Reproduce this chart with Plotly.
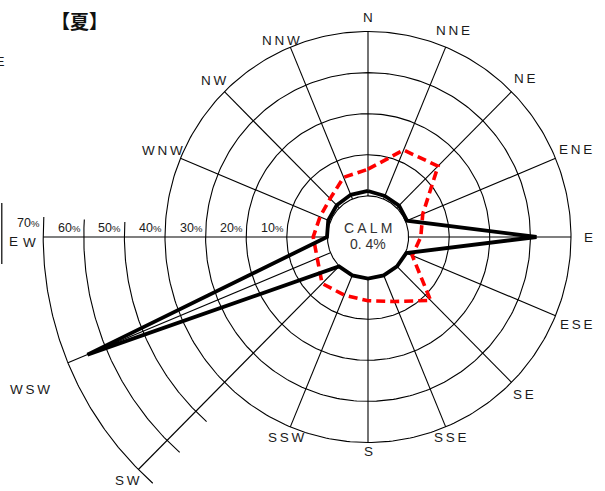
import numpy as np
import plotly.graph_objects as go

# ---------------- data ----------------
directions = ["N", "NNE", "NE", "ENE", "E", "ESE", "SE", "SSE",
              "S", "SSW", "SW", "WSW", "W", "WNW", "NW", "NNW"]
solid_freq = [1.2, 0.8, 0.8, 0.4, 31.5, 0.2, 0.1, 0.1,
              0.1, 0.1, 0.1, 64.8, 0.1, 0.6, 0.9, 1.1]
dashed_freq = [6.5, 12.9, 14.4, 4.6, 3.0, 1.8, 11.8, 7.0,
               5.5, 5.3, 6.0, 3.5, 3.5, 2.8, 3.2, 5.7]
calm_pct = 0.4
full_rings = [10, 20, 30, 40]
partial_rings = [50, 60, 70]
ring_labels = ["10%", "20%", "30%", "40%", "50%", "60%", "70%"]
long_spokes = ["SW", "WSW", "W"]
title_text = "【夏】"

# ---------------- geometry / style ----------------
W, H = 605, 491
HOLE = 10.0             # calm circle radius in % units
PX_X, PX_Y = 4.06, 4.11
CX, CY = 368, 237       # centre in figure pixels
ARC_FROM, ARC_TO = 221.5, 273.5
label_r = {"N": 53.3, "NNE": 54.5, "NE": 54.4, "ENE": 55.4, "E": 54.2,
           "ESE": 55.5, "SE": 54.2, "SSE": 52.9, "S": 52.3, "SSW": 52.8,
           "SW": 83.8, "WSW": 91.0, "W": 83.3, "WNW": 54.8, "NW": 53.7,
           "NNW": 52.4}
label_ang_override = {"WSW": 246.0, "SW": 224.9, "NNW": 336.0}
FONT = "Liberation Sans, Arial, sans-serif"
TS = "\u2009"

angles = [22.5 * i for i in range(len(directions))]


def pol(v, deg, hole=HOLE):
    r = hole + v
    a = np.radians(deg)
    return r * np.sin(a), r * np.cos(a)


def scr(px, py):
    """figure pixel -> data units"""
    return (px - CX) / PX_X, (CY - py) / PX_Y


traces = []

# grid rings
gx, gy = [], []
circ = np.linspace(0, 360, 361)
for lv in [0] + full_rings:
    x, y = pol(lv, circ)
    gx += list(x) + [None]
    gy += list(y) + [None]
arc = np.linspace(ARC_FROM, ARC_TO, 120)
for lv in partial_rings:
    x, y = pol(lv, arc)
    gx += list(x) + [None]
    gy += list(y) + [None]
# spokes
for d, a in zip(directions, angles):
    end = partial_rings[-1] if d in long_spokes else full_rings[-1]
    x0, y0 = pol(0, a)
    x1, y1 = pol(end, a)
    gx += [x0, x1, None]
    gy += [y0, y1, None]
traces.append(go.Scatter(x=gx, y=gy, mode="lines",
                         line=dict(color="black", width=1.1),
                         hoverinfo="skip", showlegend=False))

# dashed series
dx, dy = pol(np.array(dashed_freq + dashed_freq[:1]), np.array(angles + angles[:1]))
traces.append(go.Scatter(x=dx, y=dy, mode="lines",
                         line=dict(color="#ff0000", width=3.6, dash="9px,5px"),
                         showlegend=False, hoverinfo="skip"))

# solid series
sx, sy = pol(np.array(solid_freq + solid_freq[:1]), np.array(angles + angles[:1]))
traces.append(go.Scatter(x=sx, y=sy, mode="lines",
                         line=dict(color="black", width=3.8),
                         showlegend=False, hoverinfo="skip"))

# edge of the neighbouring rose (cut off at the left border)
ex0, ey0 = scr(1.8, 203)
ex1, ey1 = scr(1.8, 264)
traces.append(go.Scatter(x=[ex0, ex1], y=[ey0, ey1], mode="lines",
                         line=dict(color="black", width=1.2),
                         showlegend=False, hoverinfo="skip"))

fig = go.Figure(traces)

ann = []
# direction labels
for d, a in zip(directions, angles):
    aa = label_ang_override.get(d, a)
    x, y = pol(label_r[d] - HOLE, aa)
    ann.append(dict(x=x, y=y, text=TS.join(d), showarrow=False,
                    yshift=-5 if d == "W" else 0,
                    font=dict(family=FONT, size=13.5, color="#1a1a1a")))
# neighbour's labels (cut)
nx, ny = scr(13.5, 241)
ann.append(dict(x=nx, y=ny, text="E", showarrow=False,
                font=dict(family=FONT, size=13.5, color="#1a1a1a")))
nx, ny = scr(6, 61)
ann.append(dict(x=nx, y=ny, text="N" + TS + "E", showarrow=False, xanchor="right",
                font=dict(family=FONT, size=13.5, color="#1a1a1a")))

# ring percent labels along W axis
for lv, txt in zip(full_rings + partial_rings, ring_labels):
    x, _ = pol(lv, 270)
    num = txt[:-1]
    ann.append(dict(x=x, y=0, xanchor="right", yanchor="bottom",
                    xshift=-1, yshift=(5 if lv == 70 else 0),
                    text=num + "<span style='font-size:9.5px'>%</span>",
                    showarrow=False,
                    font=dict(family=FONT, size=12.5, color="#1a1a1a")))

# calm text
ann.append(dict(x=0, y=0, text="C A L M", showarrow=False, yshift=9,
                font=dict(family=FONT, size=14, color="#333333")))
ann.append(dict(x=0, y=0, text="0. " + ("%g" % calm_pct).split(".")[1] + "%",
                showarrow=False, yshift=-7,
                font=dict(family=FONT, size=14, color="#333333")))

# title
tx, ty = scr(79, 20)
ann.append(dict(x=tx, y=ty, text="<b>" + title_text + "</b>",
                showarrow=False,
                font=dict(family="Noto Sans CJK JP", size=19, color="#111111")))

fig.update_layout(
    width=W, height=H,
    margin=dict(l=0, r=0, t=0, b=0),
    paper_bgcolor="white", plot_bgcolor="white",
    xaxis=dict(range=[-CX / PX_X, (W - CX) / PX_X], visible=False, fixedrange=True),
    yaxis=dict(range=[-(H - CY) / PX_Y, CY / PX_Y], visible=False, fixedrange=True),
    annotations=ann,
    showlegend=False,
)

fig.write_html("out.html", config={"displayModeBar": False},
               post_script="document.body.style.margin='0';")
